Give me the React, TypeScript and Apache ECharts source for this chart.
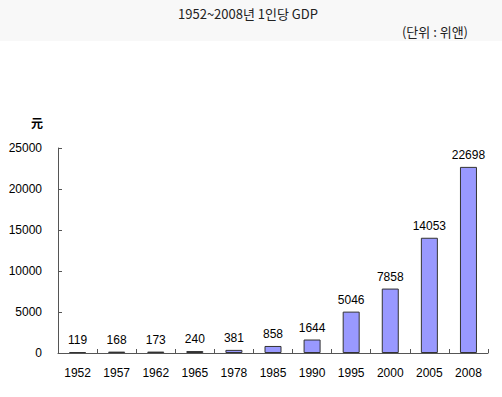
import React, { useEffect, useRef } from "react";
import * as echarts from "echarts";

const years = ["1952", "1957", "1962", "1965", "1978", "1985", "1990", "1995", "2000", "2005", "2008"];
const gdp = [119, 168, 173, 240, 381, 858, 1644, 5046, 7858, 14053, 22698];
const titleText = "1952~2008년 1인당 GDP";
const unitText = "(단위 : 위앤)";
const axisUnit = "元";

export default function App() {
  const ref = useRef<HTMLDivElement>(null);
  useEffect(() => {
    document.body.style.margin = "0";
    const chart = echarts.init(ref.current!, null, { renderer: "svg" });
    chart.setOption({
      animation: false,
      backgroundColor: "#ffffff",
      textStyle: { fontFamily: "Liberation Sans, Arial, sans-serif" },
      graphic: [
        { type: "rect", shape: { x: 0, y: 0, width: 502, height: 41 }, style: { fill: "#f8f8f8" }, silent: true, z: -10 },
        {
          type: "text",
          x: 248,
          y: 13,
          style: { text: titleText, fill: "#222", font: "13px 'Noto Sans CJK KR', sans-serif", align: "center", verticalAlign: "middle" },
        },
        {
          type: "text",
          x: 468,
          y: 31,
          style: { text: unitText, fill: "#222", font: "13px 'Noto Sans CJK KR', sans-serif", align: "right", verticalAlign: "middle" },
        },
        {
          type: "text",
          x: 37,
          y: 122,
          style: { text: axisUnit, fill: "#000", font: "bold 12px 'Noto Sans CJK SC', sans-serif", align: "center", verticalAlign: "middle" },
        },
      ],
      grid: { left: 58, right: 14, top: 148, bottom: 44, containLabel: false },
      xAxis: {
        type: "category",
        data: years,
        axisLine: { lineStyle: { color: "#555", width: 1 } },
        axisTick: { show: true, inside: true, length: 4, alignWithLabel: false, lineStyle: { color: "#555" } },
        axisLabel: { color: "#000", fontSize: 12, margin: 14 },
      },
      yAxis: {
        type: "value",
        min: 0,
        max: 25000,
        interval: 5000,
        splitLine: { show: false },
        axisLine: { show: true, lineStyle: { color: "#555", width: 1 } },
        axisTick: { show: true, inside: true, length: 4, lineStyle: { color: "#555" } },
        axisLabel: { color: "#000", fontSize: 12, margin: 16, formatter: (v: number) => String(v) },
      },
      series: [
        {
          type: "bar",
          data: gdp,
          barWidth: 17,
          itemStyle: { color: "#9999ff", borderColor: "#333", borderWidth: 1 },
          label: { show: true, position: "top", distance: 6, color: "#000", fontSize: 12 },
        },
      ],
    });
    return () => chart.dispose();
  }, []);
  return <div ref={ref} style={{ width: 502, height: 397, position: "absolute", left: 0, top: 0 }} />;
}
